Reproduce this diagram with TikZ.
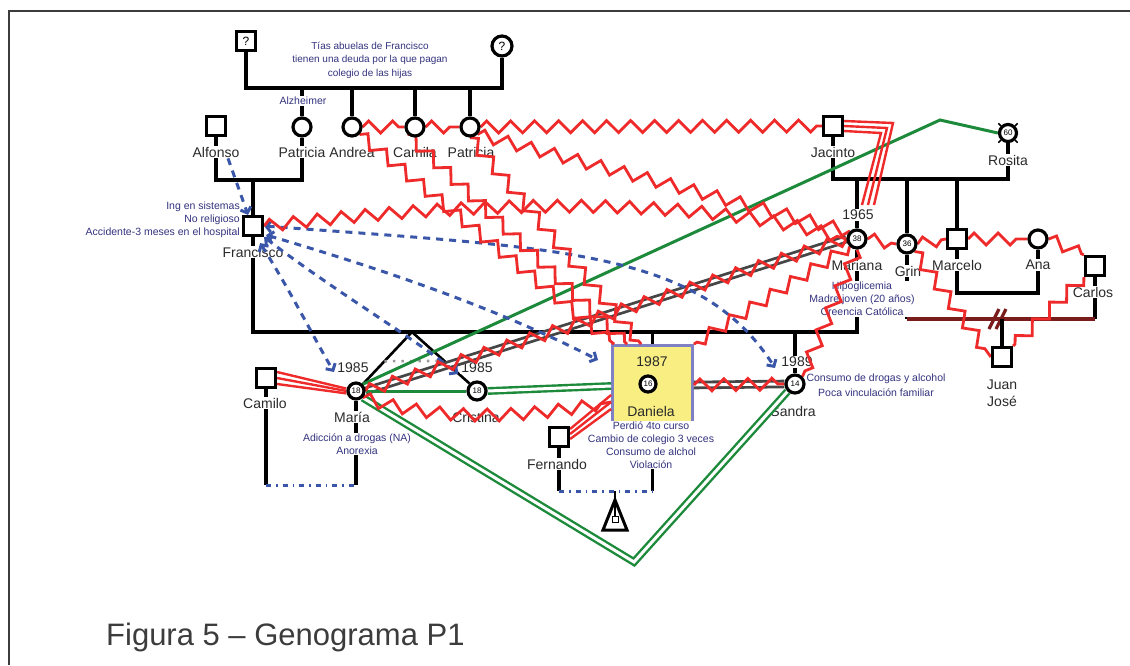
\documentclass[tikz,border=0pt]{standalone}
\usepackage{fontspec}
\setmainfont{Liberation Sans}
\usetikzlibrary{decorations.pathmorphing,arrows.meta,calc}
\pgfdeclarelayer{fam}
\pgfdeclarelayer{lbl}
\pgfdeclarelayer{rel}
\pgfsetlayers{fam,lbl,rel,main}
\definecolor{cred}{HTML}{EE2A2A}
\definecolor{cgreen}{HTML}{1C8A3A}
\definecolor{cblue}{HTML}{3A56A8}
\definecolor{cgray}{HTML}{464646}
\definecolor{cnote}{HTML}{33337F}
\definecolor{cname}{HTML}{2A2A2A}
\definecolor{cmaroon}{HTML}{7A1C1C}
\definecolor{cboxf}{HTML}{F8EE82}
\definecolor{cboxb}{HTML}{8080C4}
\definecolor{cframe}{HTML}{3C3C3C}
\begin{document}
\begin{tikzpicture}[x=1pt,y=-1pt,
  male/.style={draw, rectangle, line width=3.2pt, minimum size=19pt, inner sep=0pt, fill=white, font=\fontsize{12}{12}\selectfont},
  female/.style={draw, circle, line width=3.2pt, minimum size=18pt, inner sep=0pt, fill=white, font=\fontsize{8}{9}\selectfont},
  namelbl/.style={font=\fontsize{14}{17}\selectfont, text=cname, inner sep=1pt, fill=white, align=center},
  note/.style={font=\fontsize{10.5}{13}\selectfont, text=cnote, align=center, inner sep=1pt, fill=white},
  famline/.style={line width=3.2pt},
  conf/.style={draw=cred, line width=2.8pt, decorate, decoration={zigzag, segment length=24pt, amplitude=6pt}},
  redline/.style={draw=cred, line width=2.4pt},
  closeline/.style={draw=cgreen, line width=3pt},
  closedouble/.style={draw=cgreen, line width=2.4pt, double=white, double distance=3pt},
  graydouble/.style={draw=cgray, line width=2.8pt, double=white, double distance=3pt},
  hostile/.style={draw=cblue, line width=3pt, dash pattern=on 7pt off 6pt, -{Straight Barb[length=5pt,width=11pt]}},
  hostiletwo/.style={draw=cblue, line width=3pt, dash pattern=on 7pt off 6pt, {Straight Barb[length=5pt,width=11pt]}-{Straight Barb[length=5pt,width=11pt]}},
  dashdotline/.style={draw=cblue, line width=3pt, dash pattern=on 5pt off 5pt on 1.5pt off 5pt},
  dboxst/.style={draw=cboxb, line width=2.8pt, fill=cboxf, minimum width=80pt, minimum height=81pt, inner sep=0pt},
  framel/.style={draw=cframe, line width=2pt}
]
\useasboundingbox (0,0) rectangle (1130,665);
\draw[framel] (8.5,665) -- (8.5,11) -- (1130,11);

% ---------- persons ----------
\node[male] (gf) at (246,41) {?};
\node[female, minimum size=20pt, font=\fontsize{12}{12}\selectfont] (gm) at (502,46) {?};
\node[female] (patricia1) at (302,127) {};
\node[female] (andrea) at (352,127) {};
\node[female] (camila) at (415,127) {};
\node[female] (patricia2) at (470,127) {};
\node[male] (alfonso) at (216,126) {};
\node[male] (francisco) at (253,226) {};
\node[male] (jacinto) at (833,126) {};
\node[female, minimum size=17pt] (rosita) at (1008,133) {60};
\node[female] (mariana) at (857,239) {38};
\node[female] (grin) at (907,244) {36};
\node[male] (marcelo) at (957,239) {};
\node[female] (ana) at (1038,239) {};
\node[male] (carlos) at (1095,266) {};
\node[male] (juanjose) at (1002,357) {};
\node[male] (camilo) at (266,378) {};
\node[female, minimum size=16pt] (maria) at (356,391) {18};
\node[female] (cristina) at (477,391) {18};
\node[female, minimum size=16pt] (daniela) at (648,384) {16};
\node[female] (sandra) at (795,384) {14};
\node[male] (fernando) at (559,437) {};
\foreach \a in {45,135,225,315}
  \draw[line width=1.6pt] (rosita.\a) -- ($(rosita.center)!1.35!(rosita.\a)$);

% ---------- labels ----------
\begin{pgfonlayer}{lbl}
\node[dboxst] (dbox) at (652.5,386) {};
\node[namelbl] (lalfonso) at (216,152) {Alfonso};
\node[namelbl] (lpatricia1) at (302,152) {Patricia};
\node[namelbl] (landrea) at (352,152) {Andrea};
\node[namelbl] (lcamila) at (415,152) {Camila};
\node[namelbl] (lpatricia2) at (471,152) {Patricia};
\node[namelbl] (ljacinto) at (833,152) {Jacinto};
\node[namelbl] (lrosita) at (1008,160) {Rosita};
\node[namelbl] (lfrancisco) at (253,252) {Francisco};
\node[namelbl] (lmariana) at (857,265) {Mariana};
\node[namelbl] (lgrin) at (908,271) {Grin};
\node[namelbl] (lmarcelo) at (957,265) {Marcelo};
\node[namelbl] (lana) at (1038,265) {Ana};
\node[namelbl] (lcarlos) at (1093,292) {Carlos};
\node[namelbl] (ljuan) at (1002,393) {Juan\\José};
\node[namelbl] (lcamilo) at (265,403) {Camilo};
\node[namelbl] (lmaria) at (352,417) {María};
\node[namelbl] (lcristina) at (476,417) {Cristina};
\node[namelbl, fill=none] (ldaniela) at (651,411) {Daniela};
\node[namelbl] (lsandra) at (793,411) {Sandra};
\node[namelbl] (lfernando) at (557,464) {Fernando};
\node[namelbl] (y65) at (858,215) {1965};
\node[namelbl] (y85a) at (353,368) {1985};
\node[namelbl] (y85b) at (477,368) {1985};
\node[namelbl, fill=none] (y87) at (652,362) {1987};
\node[namelbl] (y89) at (797,362) {1989};
\node[note, font=\fontsize{10}{13.5}\selectfont] (ntias) at (370,60) {Tías abuelas de Francisco\\tienen una deuda por la que pagan\\colegio de las hijas};
\node[note] (nalz) at (303,101) {Alzheimer};
\node[note, anchor=east, align=right] (nfran) at (241,220) {Ing en sistemas\\No religioso\\Accidente-3 meses en el hospital};
\node[note] (nmar) at (862,299) {Hipoglicemia\\Madre joven (20 años)\\Creencia Católica};
\node[note] (nmaria) at (357,444) {Adicción a drogas (NA)\\Anorexia};
\node[note] (ndan) at (651,445) {Perdió 4to curso\\Cambio de colegio 3 veces\\Consumo de alchol\\Violación};
\node[note, font=\fontsize{10.5}{15}\selectfont] (nsan) at (876,385) {Consumo de drogas y alcohol\\Poca vinculación familiar};
\node[anchor=west, font=\fontsize{31}{33}\selectfont, text=cframe, inner sep=0pt] (cap) at (106,637) {Figura 5 – Genograma P1};
\end{pgfonlayer}

% ---------- family structure ----------
\begin{pgfonlayer}{fam}
\draw[famline] (gf.south) -- (gf.south |- 0,88) -- (gm.south |- 0,88) -- (gm.south);
\foreach \p in {patricia1,andrea,camila,patricia2}
  \draw[famline] (\p.north |- 0,88) -- (\p.north);
\draw[famline] (alfonso.south) -- (alfonso.south |- 0,180) -- (patricia1.south |- 0,180) -- (patricia1.south);
\draw[famline] (francisco.north |- 0,180) -- (francisco.north);
\draw[famline] (francisco.south) -- (francisco.south |- 0,332) -- (mariana.south |- 0,332) -- (mariana.south);
\draw[famline] (jacinto.south) -- (jacinto.south |- 0,179) -- (rosita.south |- 0,179) -- (rosita.south);
\draw[famline] (mariana.north |- 0,179) -- (mariana.north);
\draw[famline] (grin.north |- 0,179) -- (grin.north);
\draw[famline] (marcelo.north |- 0,179) -- (marcelo.north);
\draw[famline] (marcelo.south) -- (marcelo.south |- 0,293) -- (ana.south |- 0,293) -- (ana.south);
\draw[famline] (grin.south) -- (grin.south |- 0,319);
\draw[famline] (carlos.south) -- (carlos.south |- 0,319);
\draw[famline, draw=cmaroon] (grin.south |- 0,319) -- (carlos.south |- 0,319);
\draw[famline, draw=cmaroon] (989,329) -- (999,309) (996,329) -- (1006,309);
\draw[famline] (juanjose.north |- 0,319) -- (juanjose.north);
\coordinate (twin) at (412,332);
\draw[famline, line width=2.6pt] (twin) -- (maria.north east);
\draw[famline, line width=2.6pt] (twin) -- (cristina.north west);
\draw[gray!80, line width=2.6pt, dash pattern=on 2.5pt off 6pt] ($(twin)!0.56!(maria.north east)$) -- ($(twin)!0.56!(cristina.north west)$);
\draw[famline] (dbox.north |- 0,332) -- (dbox.north);
\draw[famline] (sandra.north |- 0,332) -- (sandra.north);
\draw[famline] (camilo.south) -- (camilo.south |- 0,485);
\draw[famline] (maria.south) -- (maria.south |- 0,485);
\draw[dashdotline] (camilo.south |- 0,485) -- (maria.south |- 0,485);
\draw[famline] (fernando.south) -- (fernando.south |- 0,491);
\draw[famline] (dbox.south) -- (dbox.south |- 0,491);
\draw[dashdotline] (fernando.south |- 0,491) -- (dbox.south |- 0,491);
\coordinate (preg) at (615,491);
\draw[line width=2.4pt] (preg) -- ++(0,26);
\draw[line width=3pt, line join=miter] ($(preg)+(0,9)$) -- ($(preg)+(-12,39)$) -- ($(preg)+(12,39)$) -- cycle;
\draw[line width=1pt, fill=white] ($(preg)+(-3,25)$) rectangle ($(preg)+(3,31)$);
\end{pgfonlayer}

% ---------- relationships ----------
\begin{pgfonlayer}{rel}
\draw[graydouble] (maria.east) -- (mariana.west);
\draw[graydouble] (dbox.east |- 0,385) -- (sandra.west);
\draw[closeline] (maria.north east) -- (940,120) -- (rosita.west);
\draw[closeline] (maria.east) -- (cristina.west);
\draw[closedouble] (cristina.east) -- (dbox.west |- 0,386);
\draw[closedouble] (maria.south east) -- (634,562) -- (sandra.south west);
% hostile (blue)
\draw[hostile] ([xshift=12pt]lalfonso.south) -- ([xshift=-5pt]francisco.north);
\draw[hostiletwo] (francisco.east) .. controls (560,248) and (700,250) .. (775,368);
\draw[hostiletwo] ($(francisco.east)+(2,9)$) .. controls (420,280) and (520,320) .. (598,360);
\draw[hostiletwo] (francisco.south east) .. controls (340,295) and (410,335) .. (458,374);
\draw[hostiletwo] ($(francisco.south east)+(-4,6)$) .. controls (290,290) and (315,340) .. (334,372);
% fused (triple red)
\foreach \o in {-6,0,6}
  \draw[redline] ($(camilo.east)+(0,\o)$) -- ($(maria.west)+(0,0.4*\o)$);
\foreach \k in {0,1,2}
  \draw[redline] ($(fernando.east)+(0,-8+5*\k)$) -- ($(dbox.west)+(0,9+7*\k)$);
\foreach \k in {0,1,2}
  \draw[redline] ($(jacinto.east)+(0,-5+5*\k)$) -- (893-6*\k,123+5*\k) -- (874-6*\k,205);
% conflict (red zigzag)
\draw[conf] (andrea.east) -- (camila.west);
\draw[conf] (camila.east) -- (patricia2.west);
\draw[conf] (patricia2.east) -- (jacinto.west);
\draw[conf] (andrea.south east) -- ($(dbox.north west)+(3,0)$);
\draw[conf] (camila.south west) -- ($(dbox.north west)+(16,0)$);
\draw[conf] (patricia2.south) -- ($(dbox.north west)+(30,0)$);
\draw[conf] (patricia2.south east) -- (mariana.north west);
\draw[conf] (francisco.east) .. controls (480,200) and (700,195) .. (mariana.west);
\draw[conf] (maria.east) -- (mariana.west);
\draw[conf] (maria.south east) .. controls (450,425) and (540,415) .. ($(dbox.west)+(0,16)$);
\draw[conf] (dbox.east |- 0,385) -- (sandra.west);
\draw[conf] (mariana.south west) -- (dbox.north east);
\draw[conf] (mariana.south) -- (sandra.north east);
\draw[conf] (mariana.east) -- (grin.west);
\draw[conf] (grin.east) -- (marcelo.west);
\draw[conf] (marcelo.east) -- (ana.west);
\draw[conf] (ana.east) -- (carlos.north west);
\draw[conf] (grin.south east) -- (juanjose.west);
\draw[conf] (carlos.south west) -- (juanjose.north east);
\end{pgfonlayer}
\end{tikzpicture}
\end{document}
